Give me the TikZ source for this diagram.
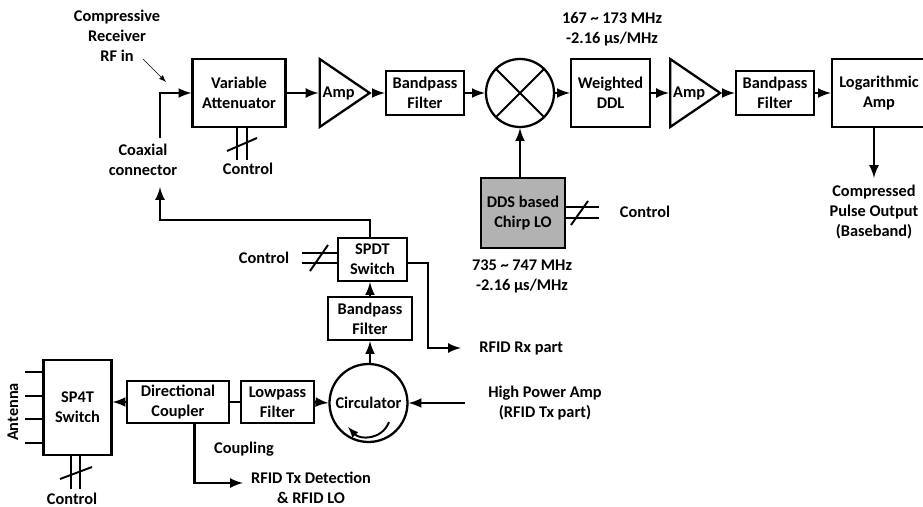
\documentclass[tikz,border=0pt]{standalone}
\usepackage{fontspec}
\setmainfont{Carlito}[BoldFont=Carlito Bold]
\usetikzlibrary{shapes.geometric}
\tikzset{
  lbl/.style={font=\fontsize{9.3}{11.4}\selectfont\bfseries,align=center,inner sep=0pt},
  block/.style 2 args={lbl,draw,line width=1.3pt,minimum width=#1*0.02cm,minimum height=#2*0.02cm},
  ampl/.style={lbl,draw,line width=1.3pt,isosceles triangle,isosceles triangle stretches,minimum width=68*0.02cm,minimum height=50*0.02cm,anchor=lower side},
  wire/.style={line width=1.5pt},
  feed/.style={line width=1.5pt,-latex},
  ctl/.style={line width=1.1pt}
}
\begin{document}
\begin{tikzpicture}[x=0.02cm,y=-0.02cm]
\useasboundingbox (0,0) rectangle (923,507);
\node (attn) at (239,93) [block={93}{68}] {Variable\\Attenuator};
\node (ampa) at (318.5,93) [ampl] {Amp};
\node (bpfa) at (425,93) [block={78}{44}] {Bandpass\\Filter};
\node (mixer) at (520,93) [draw,line width=1.3pt,circle,minimum size=68*0.02cm,inner sep=0pt] {};
\draw[line width=1.1pt] (mixer.45) -- (mixer.225) (mixer.135) -- (mixer.315);
\node (ddl) at (610.5,93) [block={79}{68}] {Weighted\\DDL};
\node (ampb) at (669,93) [ampl] {Amp};
\node (bpfb) at (775,93) [block={78}{44}] {Bandpass\\Filter};
\node (logamp) at (879,93) [block={94}{68}] {Logarithmic\\Amp};
\node (dds) at (523,213) [block={84}{70},fill=gray!60] {DDS based\\Chirp LO};
\node (spdt) at (372.5,259.5) [block={69}{43}] {SPDT\\Switch};
\node (bpfc) at (370,318.5) [block={84}{43}] {Bandpass\\Filter};
\node (circ) at (368.5,403) [draw,line width=1.3pt,circle,minimum size=78*0.02cm,inner sep=0pt,lbl] {Circulator};
\node (lpf) at (277.5,402) [block={73}{42}] {Lowpass\\Filter};
\node (coupler) at (178,402) [block={102}{42}] {Directional\\Coupler};
\node (sp4t) at (77.5,407.5) [block={68}{95}] {SP4T\\Switch};

\node (rfin) at (117,36) [lbl] {Compressive\\Receiver\\RF in};
\node (coax) at (143,160) [lbl] {Coaxial\\connector};
\node (ctla) at (248,169) [lbl] {Control};
\node (ctlb) at (645,212) [lbl] {Control};
\node (ctlc) at (264,258) [lbl] {Control};
\node (ctld) at (72,499) [lbl] {Control};
\node (ddlf) at (612,29) [lbl] {167 \textasciitilde{} 173 MHz\\-2.16 μs/MHz};
\node (ddsf) at (522,276) [lbl] {735 \textasciitilde{} 747 MHz\\-2.16 μs/MHz};
\node (pulse) at (874,212) [lbl] {Compressed\\Pulse Output\\(Baseband)};
\node (rxpart) at (479,348) [lbl,anchor=west] {RFID Rx part};
\node (txpart) at (545,403) [lbl] {High Power Amp\\(RFID Tx part)};
\node (coupl) at (244,449) [lbl] {Coupling};
\node (txdet) at (311,488) [lbl] {RFID Tx Detection\\\& RFID LO};
\node (ant) at (13,412) [lbl,rotate=90] {Antenna};

\coordinate (coaxa) at (160,138);
\coordinate (coaxb) at (160,187);
\coordinate (retn) at (160,220);
\coordinate (hpa) at (465,403);
\coordinate (rxend) at (461,348);
\coordinate (txend) at (243,483);
\coordinate (pulsea) at (874,178);
\coordinate (ctlaa) at (237,160);
\coordinate (ctlab) at (247,160);
\coordinate (ctlba) at (599,207);
\coordinate (ctlbb) at (599,218);
\coordinate (ctlca) at (302,253);
\coordinate (ctlcb) at (302,263);
\coordinate (ctlda) at (71,489);
\coordinate (ctldb) at (80,489);

\draw[feed] (coaxa) |- (attn.west);
\draw[feed] (attn.east) -- (ampa.lower side);
\draw[feed] (ampa.apex) -- (bpfa.west);
\draw[feed] (bpfa.east) -- (mixer.west);
\draw[feed] (mixer.east) -- (ddl.west);
\draw[feed] (ddl.east) -- (ampb.lower side);
\draw[feed] (ampb.apex) -- (bpfb.west);
\draw[feed] (bpfb.east) -- (logamp.west);
\draw[feed] (pulsea |- logamp.south) -- (pulsea);
\draw[feed] (mixer.south |- dds.north) -- (mixer.south);
\draw[feed] (bpfc.north |- spdt.north) |- (retn) -- (coaxb);
\draw[feed] (bpfc.north) -- (bpfc.north |- spdt.south);
\draw[feed] (circ.north -| bpfc.south) -- (bpfc.south);
\draw[feed] (hpa) -- (circ.east |- hpa);
\draw[feed] (lpf.east) -- (circ.west);
\draw[wire] (coupler.east) -- (lpf.west);
\draw[feed] (coupler.west) -- (coupler.west -| sp4t.east);
\draw[feed] (spdt.east |- ctlcb) -- (428,263) |- (rxend);
\draw[feed] (194.5,402 |- coupler.south) |- (txend);
\draw[-latex,thin] (143,59) -- (166,82);

\draw[ctl] (ctlaa |- attn.south) -- (ctlaa) (ctlab |- attn.south) -- (ctlab);
\draw[ctl] (227,151) -- (257,138);
\draw[ctl] (dds.east |- ctlba) -- (ctlba) (dds.east |- ctlbb) -- (ctlbb);
\draw[ctl] (571,225) -- (588,201);
\draw[ctl] (spdt.west |- ctlca) -- (ctlca) (spdt.west |- ctlcb) -- (ctlcb);
\draw[ctl] (310,271) -- (328,245);
\draw[ctl] (ctlda |- sp4t.south) -- (ctlda) (ctldb |- sp4t.south) -- (ctldb);
\draw[ctl] (60,479) -- (92,467);
\draw[ctl] (25,372) -- (sp4t.west |- 0,372) (25,396) -- (sp4t.west |- 0,396) (25,419) -- (sp4t.west |- 0,419) (25,443) -- (sp4t.west |- 0,443);
\draw[line width=1.1pt,-latex] (389,422) .. controls (382,440) and (360,440) .. (348,427);
\end{tikzpicture}
\end{document}
